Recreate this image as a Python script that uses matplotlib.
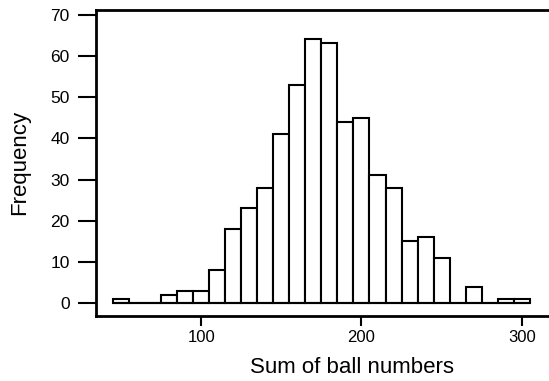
import numpy as np
import matplotlib.pyplot as plt

plt.rcParams['font.family'] = ['Liberation Sans', 'DejaVu Sans']

# histogram of ball number sums, bins of width 10
bin_edges = np.arange(45, 306, 10)
counts = [1, 0, 0, 2, 3, 3, 8, 18, 23, 28, 41, 53, 64, 63, 44, 45,
          31, 28, 15, 16, 11, 0, 4, 0, 1, 1]
x_ticks = [100, 200, 300]
y_ticks = [0, 10, 20, 30, 40, 50, 60, 70]

fig = plt.figure(figsize=(5.49, 3.81), dpi=100)
ax = fig.add_axes([0.175, 0.1706, 0.825, 0.803])

# baseline so empty bins still show up
ax.hlines(0, bin_edges[0], bin_edges[-1], color='black', linewidth=1.5)
ax.bar(bin_edges[:-1], counts, width=10, align='edge',
       facecolor='white', edgecolor='black', linewidth=1.5)

ax.set_xlim(34.4, 317)
ax.set_ylim(-3.1, 71.1)
ax.set_xticks(x_ticks)
ax.set_yticks(y_ticks)

ax.spines['right'].set_visible(False)
for s in ax.spines.values():
    s.set_linewidth(2)
ax.tick_params(axis='y', length=13, width=1.5, labelsize=12.5, pad=6)
ax.tick_params(axis='x', length=7, width=1.5, labelsize=12, pad=3)

ax.set_xlabel('Sum of ball numbers', fontsize=16, va='baseline')
ax.xaxis.set_label_coords(0.565, -0.187)
ax.set_ylabel('Frequency', fontsize=16, va='center')
ax.yaxis.set_label_coords(-0.168, 0.502)

fig.savefig('out.png', dpi=100)
